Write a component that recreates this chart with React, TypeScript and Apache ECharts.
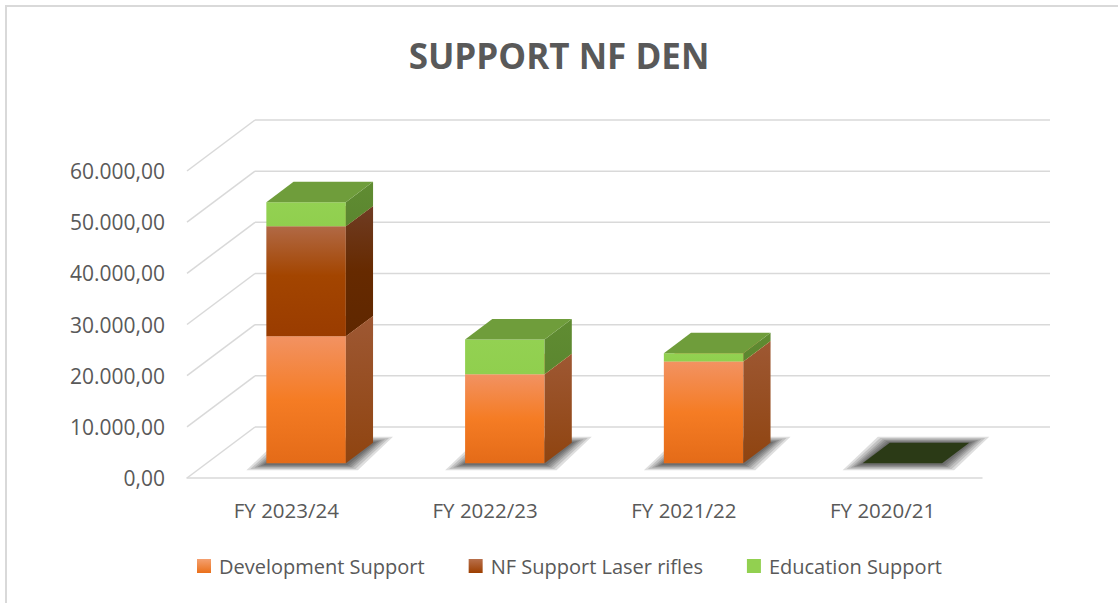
import React, { useEffect, useRef } from "react";
import * as echarts from "echarts";

const categories = ["FY 2023/24", "FY 2022/23", "FY 2021/22", "FY 2020/21"];
const developmentSupport = [24800, 17400, 19900, 0];
const laserRifles = [21500, 0, 0, 0];
const educationSupport = [4700, 6800, 1600, 0];
const yTicks = [0, 10000, 20000, 30000, 40000, 50000, 60000];
const seriesNames = ["Development Support", "NF Support Laser rifles", "Education Support"];

const FONT = "'Open Sans', 'Noto Sans', sans-serif";
const TEXT = "#595959";
const GRID = "#d9d9d9";
const DX = 68;
const DY = -51;
const B_FRONT = 0.29;
const B_BACK = 0.69;
const B_W = 0.4;

const vgrad = (stops: [number, string][]) => ({
  type: "linear",
  x: 0,
  y: 0,
  x2: 0,
  y2: 1,
  colorStops: stops.map(([offset, color]) => ({ offset, color })),
});

const palettes = [
  {
    front: vgrad([[0, "#f29262"], [0.5, "#f57c24"], [1, "#e46b18"]]),
    side: vgrad([[0, "#9e5833"], [1, "#8f4410"]]),
    top: "#f6a273",
    legend: vgrad([[0, "#f4a070"], [1, "#ea701a"]]),
  },
  {
    front: vgrad([[0, "#b16945"], [0.45, "#a34500"], [1, "#9a3c00"]]),
    side: vgrad([[0, "#6f3c24"], [0.5, "#662a00"], [1, "#5f2700"]]),
    top: "#b8744e",
    legend: vgrad([[0, "#b8704c"], [1, "#9d3f00"]]),
  },
  {
    front: vgrad([[0, "#93d152"], [1, "#90cf4e"]]),
    side: vgrad([[0, "#608c32"], [1, "#5b862f"]]),
    top: "#6f9d3b",
    legend: "#92d050",
  },
];

const fmt = (v: number) => {
  const s = Math.round(v).toString().replace(/\B(?=(\d{3})+(?!\d))/g, ".");
  return s + ",00";
};

function makeRender(si: number) {
  return (params: any, api: any) => {
    const i = api.value(0);
    const start = api.value(1);
    const end = api.value(2);
    const bw = api.size([1, 0])[0] * B_W;
    const p0 = api.coord([i, start]);
    const p1 = api.coord([i, end]);
    const fx = p0[0] + DX * B_FRONT - bw / 2;
    const fyB = p0[1] + DY * B_FRONT;
    const fyT = p1[1] + DY * B_FRONT;
    const ddx = DX * (B_BACK - B_FRONT);
    const ddy = DY * (B_BACK - B_FRONT);
    const children: any[] = [];
    const pal = palettes[si];
    if (si === 0) {
      const layers = [20, 16, 12, 9, 6, 3];
      layers.forEach((e) => {
        const ev = e * 0.3;
        children.push({
          type: "polygon",
          silent: true,
          shape: {
            points: [
              [fx - e, fyB + ev + 1],
              [fx + ddx - e * 0.6, fyB + ddy - ev],
              [fx + bw + ddx + e, fyB + ddy - ev],
              [fx + bw + e * 0.6, fyB + ev + 1],
            ],
          },
          style: { fill: "rgba(0,0,0,0.13)" },
        });
      });
    }
    const h = fyB - fyT;
    if (h > 0.01) {
      children.push({
        type: "rect",
        shape: { x: fx, y: fyT, width: bw, height: h },
        style: { fill: pal.front },
      });
      children.push({
        type: "polygon",
        shape: {
          points: [
            [fx + bw, fyB],
            [fx + bw + ddx, fyB + ddy],
            [fx + bw + ddx, fyT + ddy],
            [fx + bw, fyT],
          ],
        },
        style: { fill: pal.side },
      });
      children.push({
        type: "polygon",
        shape: {
          points: [
            [fx, fyT],
            [fx + ddx, fyT + ddy],
            [fx + bw + ddx, fyT + ddy],
            [fx + bw, fyT],
          ],
        },
        style: { fill: pal.top },
      });
    } else if (si === 2 && end === 0) {
      children.push({
        type: "polygon",
        shape: {
          points: [
            [fx, fyT],
            [fx + ddx, fyT + ddy],
            [fx + bw + ddx, fyT + ddy],
            [fx + bw, fyT],
          ],
        },
        style: { fill: "#2b3a16" },
      });
    }
    return { type: "group", children };
  };
}

function gridRender(params: any, api: any) {
  const v = api.value(1);
  const p = api.coord([0, v]);
  const cs = params.coordSys;
  const xl = cs.x;
  const xr = cs.x + cs.width;
  const y = p[1];
  const style = { stroke: GRID, lineWidth: 1.5 };
  return {
    type: "group",
    children: [
      { type: "line", shape: { x1: xl, y1: y, x2: xl + DX, y2: y + DY }, style },
      { type: "line", shape: { x1: xl + DX, y1: y + DY, x2: xr + DX, y2: y + DY }, style },
    ],
  };
}

export default function App() {
  const ref = useRef<HTMLDivElement>(null);
  useEffect(() => {
    if (!ref.current) return;
    const chart = echarts.init(ref.current, undefined, { renderer: "svg" });
    const stacks = [developmentSupport, laserRifles, educationSupport];
    const segData = stacks.map((arr, si) =>
      arr.map((v, i) => {
        let base = 0;
        for (let k = 0; k < si; k++) base += stacks[k][i];
        return [i, base, base + v];
      })
    );
    chart.setOption({
      animation: false,
      backgroundColor: "#ffffff",
      title: {
        text: "SUPPORT NF DEN",
        left: "center",
        top: 34,
        padding: [0, 0, 0, 14],
        textStyle: {
          fontFamily: FONT,
          fontSize: 35,
          fontWeight: "bold",
          color: TEXT,
          lineHeight: 42,
        },
      },
      legend: {
        data: seriesNames,
        left: 192,
        top: 551,
        itemWidth: 14,
        itemHeight: 14,
        itemGap: 44,
        icon: "rect",
        textStyle: { fontFamily: FONT, fontSize: 20, color: TEXT, padding: [0, 0, 0, 3] },
      },
      graphic: [
        {
          type: "rect",
          shape: { x: 6, y: 6, width: 1300, height: 800 },
          style: { fill: "none", stroke: GRID, lineWidth: 2 },
          silent: true,
        },
      ],
      grid: { left: 187, right: 136, top: 171, bottom: 125, containLabel: false },
      xAxis: {
        type: "category",
        data: categories,
        axisLine: { lineStyle: { color: GRID, width: 1.5 } },
        axisTick: { show: false },
        axisLabel: { fontFamily: FONT, fontSize: 20.5, color: TEXT, margin: 21 },
        splitLine: { show: false },
      },
      yAxis: {
        type: "value",
        min: 0,
        max: 60000,
        interval: 10000,
        axisLine: { show: false },
        axisTick: { show: false },
        splitLine: { show: false },
        axisLabel: {
          fontFamily: FONT,
          fontSize: 21,
          color: TEXT,
          margin: 22,
          formatter: (v: number) => fmt(v),
        },
      },
      series: [
        {
          type: "custom",
          name: "grid3d",
          silent: true,
          renderItem: gridRender,
          data: yTicks.map((v) => [0, v]),
          encode: { x: 0, y: 1 },
          clip: false,
          z: 1,
        },
        ...seriesNames.map((name, si) => ({
          type: "custom",
          name,
          renderItem: makeRender(si),
          data: segData[si],
          encode: { x: 0, y: [1, 2] },
          itemStyle: { color: palettes[si].legend },
          clip: false,
          z: 2,
        })),
      ],
    });
    return () => chart.dispose();
  }, []);
  return (
    <div
      ref={ref}
      style={{ position: "fixed", left: 0, top: 0, width: 1118, height: 603 }}
    />
  );
}
